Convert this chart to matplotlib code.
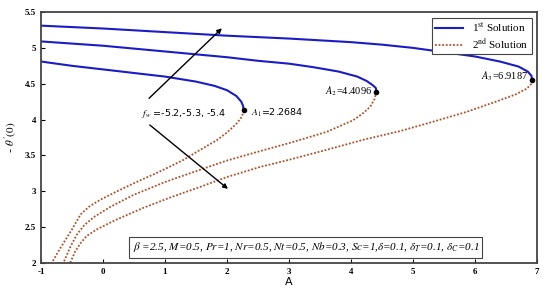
import matplotlib.pyplot as plt

plt.rcParams['mathtext.fontset'] = 'stix'

# first solution (upper branches) for fw = -5.2, -5.3, -5.4
up1_x = [-1.0, -0.5, 0.0, 0.5, 1.0, 1.5, 1.8, 2.0, 2.15, 2.23, 2.26, 2.2684]
up1_y = [4.81, 4.75, 4.70, 4.65, 4.60, 4.53, 4.47, 4.41, 4.33, 4.25, 4.19, 4.13]
up2_x = [-1.0, -0.5, 0.0, 0.5, 1.0, 1.5, 2.0, 2.5, 3.0, 3.4, 3.8, 4.1, 4.25, 4.35, 4.40, 4.4096]
up2_y = [5.09, 5.06, 5.03, 4.99, 4.95, 4.91, 4.87, 4.82, 4.78, 4.73, 4.67, 4.60, 4.54, 4.48, 4.44, 4.39]
up3_x = [-1.0, 0.0, 1.0, 2.0, 3.0, 3.5, 4.0, 4.5, 5.0, 5.5, 6.0, 6.4, 6.7, 6.85, 6.91, 6.9187]
up3_y = [5.31, 5.27, 5.22, 5.17, 5.13, 5.105, 5.08, 5.045, 5.00, 4.94, 4.88, 4.81, 4.74, 4.67, 4.61, 4.55]

# second solution (lower branches)
lo1_x = [2.2684, 2.24, 2.16, 2.0, 1.83, 1.55, 1.30, 0.9, 0.49, 0.2, -0.05, -0.22, -0.36, -0.5, -0.68, -0.83]
lo1_y = [4.13, 4.04, 3.95, 3.82, 3.71, 3.57, 3.44, 3.27, 3.11, 2.99, 2.88, 2.79, 2.68, 2.47, 2.22, 2.0]
lo2_x = [4.4096, 4.38, 4.31, 4.18, 4.03, 3.61, 3.07, 2.53, 2.0, 1.56, 1.0, 0.49, 0.11, -0.15, -0.3, -0.42, -0.53, -0.64]
lo2_y = [4.39, 4.29, 4.18, 4.08, 3.99, 3.83, 3.69, 3.56, 3.43, 3.30, 3.13, 2.95, 2.78, 2.64, 2.53, 2.40, 2.22, 2.0]
lo3_x = [6.9187, 6.90, 6.83, 6.65, 6.40, 5.87, 5.32, 4.79, 4.2, 3.61, 3.0, 2.53, 2.0, 1.56, 1.1, 0.65, 0.2, -0.1, -0.26, -0.36, -0.45, -0.53]
lo3_y = [4.55, 4.49, 4.43, 4.35, 4.27, 4.11, 3.97, 3.84, 3.72, 3.58, 3.44, 3.34, 3.20, 3.06, 2.92, 2.77, 2.60, 2.47, 2.38, 2.28, 2.16, 2.0]

turn_labels = [r'$A_1$=2.2684', r'$A_2$=4.4096', r'$A_3$=6.9187']

x_ticks = [-1, 0, 1, 2, 3, 4, 5, 6, 7]
x_ticklabels = ['-1', '0', '1', '2', '3', '4', '5', '6', '7']
y_ticks = [2, 2.5, 3, 3.5, 4, 4.5, 5, 5.5]
y_ticklabels = ['2', '2.5', '3', '3.5', '4', '4.5', '5', '5.5']

blue = '#1c1cc4'
brown = '#b0502a'

fig = plt.figure(figsize=(5.5, 2.93), dpi=100)
ax = fig.add_axes([0.0745, 0.102, 0.902, 0.857])

ax.plot(up1_x, up1_y, color=blue, lw=1.5, label='1$^{\\rm st}$ Solution')
ax.plot(up2_x, up2_y, color=blue, lw=1.5)
ax.plot(up3_x, up3_y, color=blue, lw=1.5)
ax.plot(lo1_x, lo1_y, color=brown, lw=1.3, ls=(0, (1, 1)), label='2$^{\\rm nd}$ Solution')
ax.plot(lo2_x, lo2_y, color=brown, lw=1.3, ls=(0, (1, 1)))
ax.plot(lo3_x, lo3_y, color=brown, lw=1.3, ls=(0, (1, 1)))

# turning points
tx = [lo1_x[0], lo2_x[0], lo3_x[0]]
ty = [lo1_y[0], lo2_y[0], lo3_y[0]]
ax.plot(tx, ty, 'o', color='black', ms=3, zorder=5)
ax.annotate(turn_labels[0], (tx[0], ty[0]), xytext=(5, -2), textcoords='offset points',
            fontsize=6.8, family='DejaVu Sans', va='center')
ax.annotate(turn_labels[1], (tx[1], ty[1]), xytext=(-3, 0), textcoords='offset points',
            fontsize=7.5, family='Liberation Serif', va='center', ha='right')
ax.annotate(turn_labels[2], (tx[2], ty[2]), xytext=(-3, 3), textcoords='offset points',
            fontsize=7.5, family='Liberation Serif', va='center', ha='right')

# arrows showing direction of fw
ax.annotate('', xy=(1.95, 5.30), xytext=(0.71, 4.27),
            arrowprops=dict(arrowstyle='-|>', color='black', lw=1, mutation_scale=7))
ax.annotate('', xy=(2.05, 3.01), xytext=(0.72, 3.95),
            arrowprops=dict(arrowstyle='-|>', color='black', lw=1, mutation_scale=7))
ax.text(0.62, 4.09, r'$f_w$ =-5.2,-5.3, -5.4', fontsize=6.8, family='DejaVu Sans', va='center')

ax.text(3.27, 2.22,
        r'$\beta$ =2.5, $M$=0.5, $Pr$=1, $Nr$=0.5, $Nt$=0.5, $Nb$=0.3, $Sc$=1,$\delta$=0.1, '
        r'$\delta_T$=0.1, $\delta_C$=0.1',
        fontsize=8, family='Liberation Serif', style='italic', ha='center', va='center',
        bbox=dict(boxstyle='square,pad=0.3', fc='white', ec='#444444', lw=0.8))

ax.set_xlim(-1, 7)
ax.set_ylim(2, 5.5)
ax.set_xticks(x_ticks)
ax.set_xticklabels(x_ticklabels, family='Liberation Serif', fontweight='bold', fontsize=6.5)
ax.set_yticks(y_ticks)
ax.set_yticklabels(y_ticklabels, family='Liberation Serif', fontweight='bold', fontsize=6.5)
ax.tick_params(direction='in', length=3, width=0.8)
ax.set_xlabel('A', fontsize=8, labelpad=1)
ax.set_ylabel(r"- $\theta'(0)$", fontsize=8, labelpad=4)
for s in ax.spines.values():
    s.set_color('#444444')
    s.set_linewidth(1.3)

leg = ax.legend(loc='upper right', prop={'family': 'Liberation Serif', 'size': 8},
                fancybox=False, edgecolor='#444444', framealpha=1, handlelength=2.5,
                borderpad=0.3, labelspacing=0.2)
leg.get_frame().set_linewidth(0.8)

plt.savefig('out.png', dpi=100)
